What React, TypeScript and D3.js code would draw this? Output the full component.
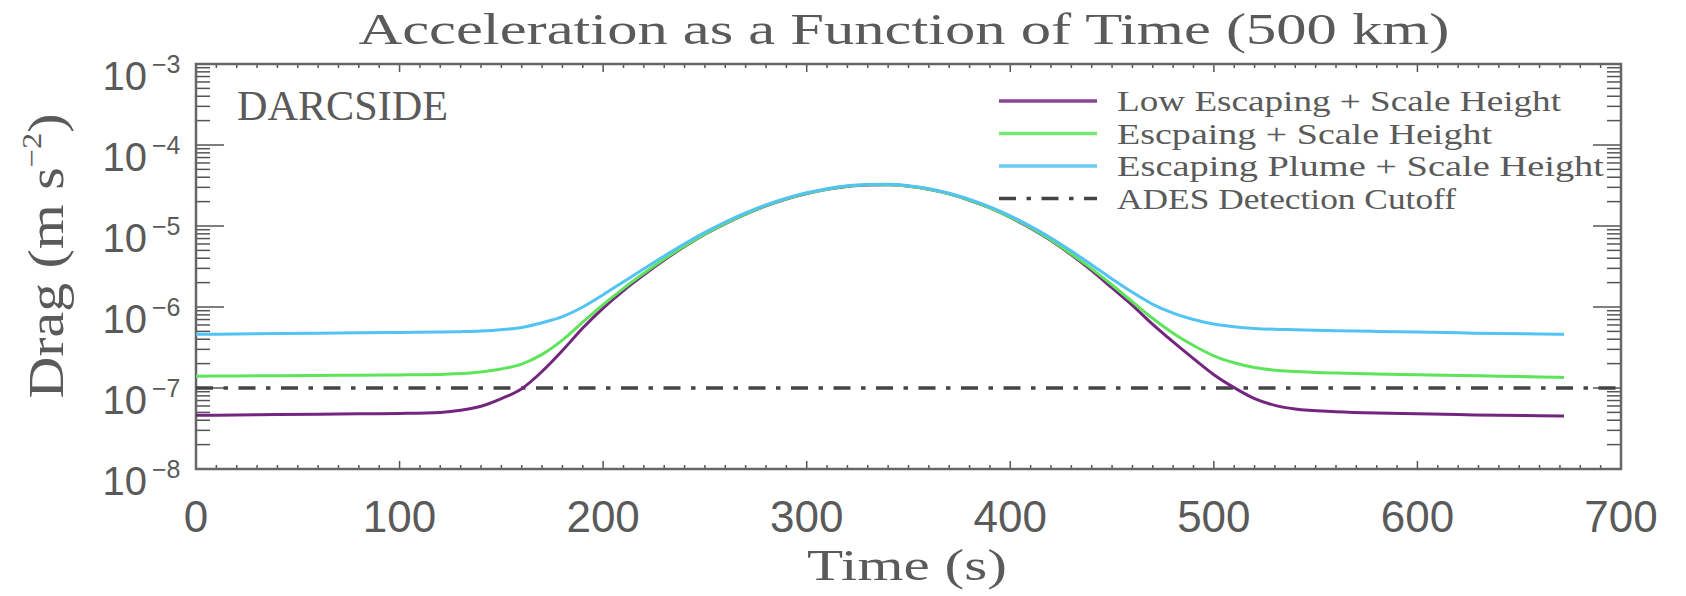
import React, { useEffect, useRef } from 'react'
import * as d3 from 'd3'

// time in seconds
const times = [0, 20, 40, 60, 80, 100, 120, 130, 140, 150, 160, 170, 180, 190, 200, 210, 220, 230, 240, 250, 260, 270, 280, 290, 300, 310, 320, 330, 340, 350, 360, 370, 380, 390, 400, 410, 420, 430, 440, 450, 460, 470, 480, 490, 500, 510, 520, 530, 540, 560, 580, 600, 620, 640, 660, 672]

// drag, m s^-2
const lowEscaping = [4.6e-8, 4.65e-8, 4.7e-8, 4.75e-8, 4.8e-8, 4.85e-8, 5.0e-8, 5.3e-8, 5.95e-8, 7.4e-8, 9.8e-8, 1.6e-7, 2.9e-7, 5.5e-7, 9.7e-7, 1.6e-6, 2.5e-6, 3.8e-6, 5.58e-6, 7.9e-6, 1.07e-5, 1.4e-5, 1.77e-5, 2.15e-5, 2.52e-5, 2.84e-5, 3.08e-5, 3.21e-5, 3.22e-5, 3.09e-5, 2.84e-5, 2.49e-5, 2.08e-5, 1.67e-5, 1.28e-5, 9.4e-6, 6.6e-6, 4.4e-6, 2.81e-6, 1.72e-6, 1.05e-6, 6.1e-7, 3.7e-7, 2.3e-7, 1.46e-7, 1.01e-7, 7.4e-8, 6.1e-8, 5.5e-8, 5.1e-8, 4.9e-8, 4.8e-8, 4.7e-8, 4.6e-8, 4.55e-8, 4.5e-8]
const escaping = [1.4e-7, 1.41e-7, 1.42e-7, 1.43e-7, 1.44e-7, 1.45e-7, 1.47e-7, 1.51e-7, 1.58e-7, 1.72e-7, 1.97e-7, 2.6e-7, 3.9e-7, 6.5e-7, 1.07e-6, 1.7e-6, 2.61e-6, 3.91e-6, 5.68e-6, 7.99e-6, 1.08e-5, 1.41e-5, 1.78e-5, 2.16e-5, 2.53e-5, 2.85e-5, 3.09e-5, 3.22e-5, 3.23e-5, 3.1e-5, 2.85e-5, 2.5e-5, 2.09e-5, 1.68e-5, 1.29e-5, 9.5e-6, 6.7e-6, 4.5e-6, 2.96e-6, 1.87e-6, 1.16e-6, 7.2e-7, 4.75e-7, 3.35e-7, 2.5e-7, 2.05e-7, 1.79e-7, 1.66e-7, 1.6e-7, 1.53e-7, 1.49e-7, 1.46e-7, 1.43e-7, 1.4e-7, 1.37e-7, 1.35e-7]
const escapingPlume = [4.6e-7, 4.65e-7, 4.7e-7, 4.75e-7, 4.8e-7, 4.85e-7, 4.91e-7, 4.96e-7, 5.05e-7, 5.24e-7, 5.6e-7, 6.4e-7, 7.6e-7, 1.0e-6, 1.42e-6, 2.05e-6, 2.96e-6, 4.26e-6, 6.03e-6, 8.34e-6, 1.12e-5, 1.45e-5, 1.82e-5, 2.2e-5, 2.57e-5, 2.89e-5, 3.13e-5, 3.26e-5, 3.27e-5, 3.14e-5, 2.89e-5, 2.54e-5, 2.13e-5, 1.72e-5, 1.33e-5, 9.9e-6, 7.1e-6, 4.9e-6, 3.31e-6, 2.22e-6, 1.52e-6, 1.08e-6, 8.4e-7, 7.0e-7, 6.15e-7, 5.7e-7, 5.44e-7, 5.31e-7, 5.25e-7, 5.1e-7, 5.0e-7, 4.9e-7, 4.8e-7, 4.7e-7, 4.65e-7, 4.6e-7]
const adesCutoff = 1e-7

const xTickLabels = [0, 100, 200, 300, 400, 500, 600, 700]
const yExponents = [-8, -7, -6, -5, -4, -3]

const legendNames = ['Low Escaping + Scale Height', 'Escpaing + Scale Height', 'Escaping Plume + Scale Height', 'ADES Detection Cutoff']
const legendWidths = [444, 375, 487, 339]

const serif = "'Liberation Serif', serif"
const sans = "'Liberation Sans', sans-serif"

export default function App() {
  const ref = useRef<SVGSVGElement>(null)

  useEffect(() => {
    document.body.style.margin = '0'
    const svg = d3.select(ref.current)
    svg.selectAll('*').remove()

    const left = 196, right = 1621, top = 64, bottom = 469
    const x = d3.scaleLinear().domain([0, 700]).range([left, right])
    const y = d3.scaleLog().domain([1e-8, 1e-3]).range([bottom, top])

    // ticks, IDL style: on all four sides, pointing in
    const ticks = svg.append('g').attr('stroke', '#555').attr('stroke-width', 1.5)
    d3.range(0, 701, 10).forEach(v => {
      const len = v % 100 === 0 ? 8 : 4
      ticks.append('line').attr('x1', x(v)).attr('x2', x(v)).attr('y1', bottom).attr('y2', bottom - len)
      ticks.append('line').attr('x1', x(v)).attr('x2', x(v)).attr('y1', top).attr('y2', top + len)
    })
    yExponents.forEach(e => {
      const d = Math.pow(10, e)
      ticks.append('line').attr('x1', left).attr('x2', left + 28).attr('y1', y(d)).attr('y2', y(d))
      ticks.append('line').attr('x1', right).attr('x2', right - 28).attr('y1', y(d)).attr('y2', y(d))
      if (e < -3) {
        d3.range(2, 10).forEach(m => {
          const yy = y(m * d)
          ticks.append('line').attr('x1', left).attr('x2', left + 14).attr('y1', yy).attr('y2', yy)
          ticks.append('line').attr('x1', right).attr('x2', right - 14).attr('y1', yy).attr('y2', yy)
        })
      }
    })

    // frame
    svg.append('rect')
      .attr('x', left).attr('y', top)
      .attr('width', right - left).attr('height', bottom - top)
      .attr('fill', 'none').attr('stroke', '#666').attr('stroke-width', 2.5)

    // x labels
    svg.append('g').selectAll('text')
      .data(xTickLabels).enter().append('text')
      .attr('x', d => x(d)).attr('y', 532)
      .attr('text-anchor', 'middle')
      .attr('font-family', sans).attr('font-size', 44).attr('fill', '#5a5a5a')
      .text(d => String(d))

    // y labels 10^n
    const yl = svg.append('g').attr('font-family', sans).attr('fill', '#5a5a5a')
    yExponents.forEach(e => {
      const yy = y(Math.pow(10, e))
      yl.append('text').attr('x', 147).attr('y', yy + 26)
        .attr('text-anchor', 'end').attr('font-size', 40).text('10')
      yl.append('text').attr('x', 152).attr('y', yy + 9)
        .attr('font-size', 25).text('\u2212' + Math.abs(e))
    })

    // cutoff line
    svg.append('line')
      .attr('x1', x(0)).attr('x2', x(700))
      .attr('y1', y(adesCutoff)).attr('y2', y(adesCutoff))
      .attr('stroke', '#444').attr('stroke-width', 3.5)
      .attr('stroke-dasharray', '17 10.5 4.5 10.5')

    const colors = ['#74267f', '#5ee45a', '#52c3f3']
    const series = [lowEscaping, escaping, escapingPlume]
    const lineGen = d3.line<number>()
      .x((d, i) => x(times[i]))
      .y(d => y(d))
      .curve(d3.curveMonotoneX)

    series.forEach((s, k) => {
      svg.append('path').attr('d', lineGen(s))
        .attr('fill', 'none').attr('stroke', colors[k]).attr('stroke-width', 3)
    })

    // legend
    const lg = svg.append('g')
    legendNames.forEach((name, i) => {
      const ly = 101 + i * 32.5
      const ln = lg.append('line').attr('x1', 999).attr('x2', 1097).attr('y1', ly).attr('y2', ly)
      if (i < 3) {
        ln.attr('stroke', colors[i]).attr('stroke-width', 3.5).attr('opacity', 0.85)
      } else {
        ln.attr('stroke', '#444').attr('stroke-width', 3.5).attr('stroke-dasharray', '17 10.5 4.5 10.5')
      }
      lg.append('text').attr('x', 1117).attr('y', ly + 10)
        .attr('font-family', serif).attr('font-size', 30).attr('fill', '#5a5a5a')
        .attr('textLength', legendWidths[i]).attr('lengthAdjust', 'spacingAndGlyphs')
        .text(name)
    })

    // DARCSIDE
    svg.append('text').attr('x', 237).attr('y', 120)
      .attr('font-family', serif).attr('font-size', 42).attr('fill', '#5a5a5a')
      .attr('textLength', 211).attr('lengthAdjust', 'spacingAndGlyphs')
      .text('DARCSIDE')

    // title
    svg.append('text').attr('x', 904).attr('y', 44)
      .attr('text-anchor', 'middle')
      .attr('font-family', serif).attr('font-size', 44).attr('fill', '#5a5a5a')
      .attr('textLength', 1091).attr('lengthAdjust', 'spacingAndGlyphs')
      .text('Acceleration as a Function of Time (500 km)')

    // x title
    svg.append('text').attr('x', 907).attr('y', 580)
      .attr('text-anchor', 'middle')
      .attr('font-family', serif).attr('font-size', 45).attr('fill', '#5a5a5a')
      .attr('textLength', 200).attr('lengthAdjust', 'spacingAndGlyphs')
      .text('Time (s)')

    // y title
    const yt = svg.append('text')
      .attr('transform', 'translate(63,256) rotate(-90)')
      .attr('text-anchor', 'middle')
      .attr('font-family', serif).attr('font-size', 50).attr('fill', '#5a5a5a')
      .attr('textLength', 285).attr('lengthAdjust', 'spacingAndGlyphs')
    yt.append('tspan').text('Drag (m s')
    yt.append('tspan').attr('font-size', 28).attr('dy', -22).text('\u2212' + '2')
    yt.append('tspan').attr('dy', 22).text(')')
  }, [])

  return (
    <svg ref={ref} width={1686} height={596} style={{ display: 'block', background: '#fff' }}></svg>
  )
}
